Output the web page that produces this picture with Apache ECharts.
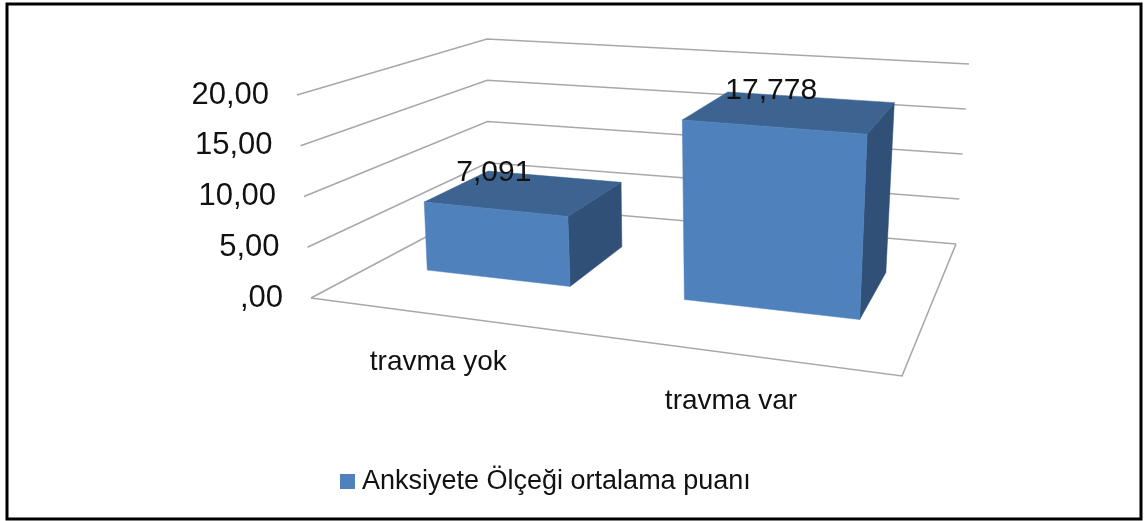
<!DOCTYPE html>
<html>
<head>
<meta charset="utf-8">
<style>html,body{margin:0;padding:0;background:#fff}#c{width:1144px;height:521px}</style>
<script src="https://cdn.jsdelivr.net/npm/echarts@6/dist/echarts.min.js"></script>
</head>
<body>
<div id="c"></div>
<script>
const categories = ['travma yok', 'travma var'];
const seriesName = 'Anksiyete Ölçeği ortalama puanı';
const values = [7.091, 17.778];
const valueLabels = ['7,091', '17,778'];
const yTicks = [0, 5, 10, 15, 20];
const yTickLabels = [',00', '5,00', '10,00', '15,00', '20,00'];

const FONT = '"Liberation Sans", Arial, sans-serif';
// Corners of the 3D box: [front-left, front-right, back-right, back-left]
const floorQuad = [[311, 298], [902, 376], [956, 244], [488, 204]];
const topQuad = [[297, 95], [915, 148], [969, 64], [487, 39]];

function homography(q) {
  const [p0, p1, p2, p3] = q;
  const dx1 = p1[0] - p2[0], dx2 = p3[0] - p2[0], sx = p0[0] - p1[0] + p2[0] - p3[0];
  const dy1 = p1[1] - p2[1], dy2 = p3[1] - p2[1], sy = p0[1] - p1[1] + p2[1] - p3[1];
  const det = dx1 * dy2 - dx2 * dy1;
  const g = (sx * dy2 - dx2 * sy) / det, h = (dx1 * sy - sx * dy1) / det;
  const a = p1[0] - p0[0] + g * p1[0], b = p3[0] - p0[0] + h * p3[0], c = p0[0];
  const d = p1[1] - p0[1] + g * p1[1], e = p3[1] - p0[1] + h * p3[1], f = p0[1];
  return (u, w) => {
    const k = g * u + h * w + 1;
    return [(a * u + b * w + c) / k, (d * u + e * w + f) / k];
  };
}
const floorAt = homography(floorQuad), topAt = homography(topQuad);
// u: across (0..1), w: depth (0 front..1 back), t: height fraction (0..1)
function project(u, w, t) {
  const a = floorAt(u, w), b = topAt(u, w);
  return [a[0] + (b[0] - a[0]) * t, a[1] + (b[1] - a[1]) * t];
}
function norm(api, params, catIdx, val) {
  const p = api.coord([catIdx, val]), cs = params.coordSys;
  return [(p[0] - cs.x) / cs.width, (cs.y + cs.height - p[1]) / cs.height];
}
const GRID = '#a8a8a8';
const lineStyle = { stroke: GRID, lineWidth: 1.6, fill: null };

function renderGrid(params, api) {
  const n = norm(api, params, 0, api.value(1));
  const t = n[1];
  const kids = [{
    type: 'polyline',
    shape: { points: [project(0, 0, t), project(0, 1, t), project(1, 1, t)] },
    style: lineStyle
  }];
  if (t === 0) {
    kids.push({
      type: 'polyline',
      shape: { points: [project(0, 0, 0), project(1, 0, 0), project(1, 1, 0)] },
      style: lineStyle
    });
  }
  const a = project(0, 0, t);
  kids.push({
    type: 'text', x: a[0] - 28, y: a[1],
    style: { text: yTickLabels[params.dataIndex], fill: '#111', fontSize: 31, fontFamily: FONT, align: 'right', verticalAlign: 'middle' }
  });
  return { type: 'group', children: kids };
}

const DEPTH = [0.305, 0.68], HALF = 0.145, SHIFT = 0.01;
function renderBar(params, api) {
  const i = params.dataIndex;
  const n = norm(api, params, i, api.value(1));
  const c = n[0] + SHIFT, t = n[1];
  const l = c - HALF, r = c + HALF, f = DEPTH[0], b = DEPTH[1];
  const fbl = project(l, f, 0), fbr = project(r, f, 0), bbr = project(r, b, 0);
  const ftl = project(l, f, t), ftr = project(r, f, t), btr = project(r, b, t), btl = project(l, b, t);
  const fm = project(c, f, t), em = project(n[0], 0, 0);
  const poly = (pts, fill) => ({ type: 'polygon', shape: { points: pts }, style: { fill: fill, stroke: fill, lineWidth: 0.5 } });
  return {
    type: 'group', children: [
      poly([fbr, bbr, btr, ftr], '#305078'),
      poly([ftl, ftr, btr, btl], '#3d6391'),
      poly([fbl, fbr, ftr, ftl], api.visual('color')),
      { type: 'text', x: fm[0], y: fm[1] - 36, style: { text: valueLabels[i], fill: '#111', fontSize: 30, fontFamily: FONT, align: 'center', verticalAlign: 'middle' } },
      { type: 'text', x: em[0] + 3, y: em[1] + 48, style: { text: categories[i], fill: '#111', fontSize: 28, fontFamily: FONT, align: 'center', verticalAlign: 'middle' } }
    ]
  };
}

const chart = echarts.init(document.getElementById('c'), null, { renderer: 'canvas' });
chart.setOption({
  animation: false,
  backgroundColor: '#fff',
  graphic: [{
    type: 'rect', silent: true,
    shape: { x: 7, y: 4, width: 1134, height: 515 },
    style: { fill: null, stroke: '#000', lineWidth: 3 }
  }],
  grid: { left: 300, top: 95, width: 600, height: 203 },
  xAxis: { type: 'category', data: categories, show: false },
  yAxis: { type: 'value', min: 0, max: 20, interval: 5, show: false },
  legend: {
    left: 335, top: 463, icon: 'rect', itemWidth: 15, itemHeight: 15,
    data: [seriesName],
    textStyle: { fontSize: 27, fontFamily: FONT, color: '#111', padding: [0, 0, 0, 2] }
  },
  series: [{
    type: 'custom', name: 'grid', silent: true, clip: false, z: 1,
    renderItem: renderGrid,
    encode: { x: 0, y: 1 },
    data: yTicks.map(v => [0, v])
  }, {
    type: 'custom', name: seriesName, silent: true, clip: false, z: 2,
    renderItem: renderBar,
    itemStyle: { color: '#4f81bd' },
    encode: { x: 0, y: 1 },
    data: values.map((v, i) => [i, v])
  }]
});
</script>
</body>
</html>
